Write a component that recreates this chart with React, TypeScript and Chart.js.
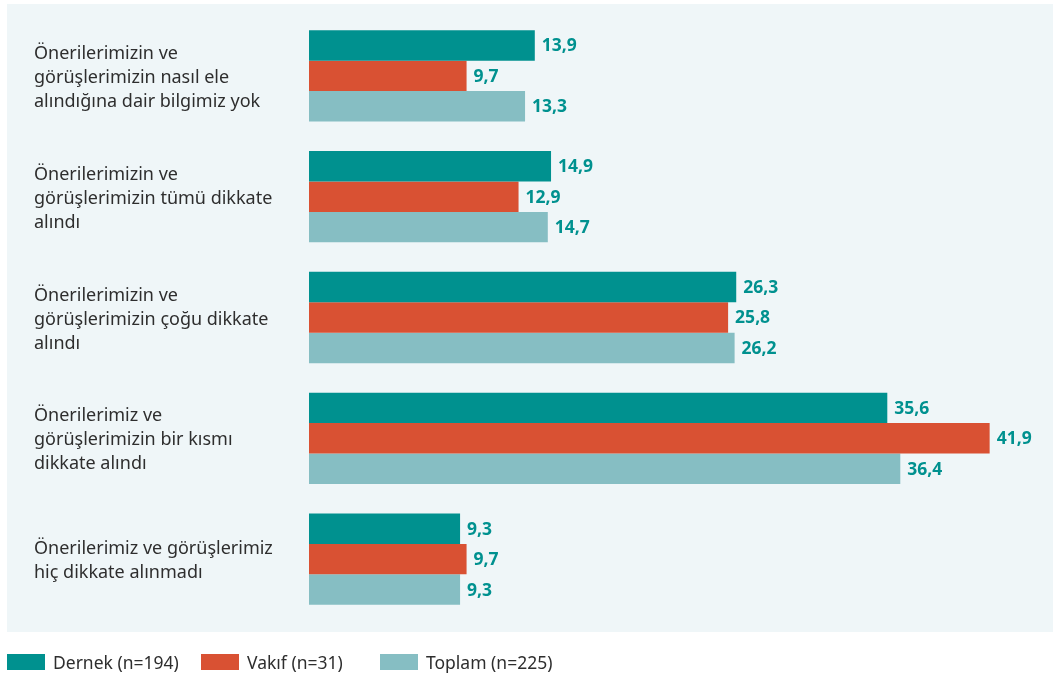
import React, { useEffect, useRef } from "react";
import { Chart, registerables } from "chart.js";

Chart.register(...registerables);

const categories: string[][] = [
  ["Önerilerimizin ve", "görüşlerimizin nasıl ele", "alındığına dair bilgimiz yok"],
  ["Önerilerimizin ve", "görüşlerimizin tümü dikkate", "alındı"],
  ["Önerilerimizin ve", "görüşlerimizin çoğu dikkate", "alındı"],
  ["Önerilerimiz ve", "görüşlerimizin bir kısmı", "dikkate alındı"],
  ["Önerilerimiz ve görüşlerimiz", "hiç dikkate alınmadı"],
];

const seriesNames = ["Dernek (n=194)", "Vakıf (n=31)", "Toplam (n=225)"];
const dernek = [13.9, 14.9, 26.3, 35.6, 9.3];
const vakif = [9.7, 12.9, 25.8, 41.9, 9.7];
const toplam = [13.3, 14.7, 26.2, 36.4, 9.3];
const colors = ["#00918f", "#d95133", "#86bec3"];

const FONT = "'Noto Sans', 'Open Sans', sans-serif";

const backgroundPlugin = {
  id: "panelBg",
  beforeDraw(chart: any) {
    const ctx = chart.ctx;
    ctx.save();
    ctx.fillStyle = "#eff6f8";
    ctx.fillRect(7, 4, chart.width - 7, 628);
    ctx.restore();
  },
};

const valueLabelPlugin = {
  id: "valueLabels",
  afterDatasetsDraw(chart: any) {
    const ctx = chart.ctx;
    ctx.save();
    ctx.font = `bold 17.5px ${FONT}`;
    ctx.fillStyle = "#00918f";
    ctx.textAlign = "left";
    ctx.textBaseline = "middle";
    chart.data.datasets.forEach((ds: any, i: number) => {
      const meta = chart.getDatasetMeta(i);
      meta.data.forEach((bar: any, j: number) => {
        const v = ds.data[j] as number;
        ctx.fillText(v.toFixed(1).replace(".", ","), bar.x + 7, bar.y + 1);
      });
    });
    ctx.restore();
  },
};

const legendPlugin = {
  id: "customLegend",
  afterDraw(chart: any) {
    const ctx = chart.ctx;
    const starts = [7, 201, 380];
    ctx.save();
    ctx.font = `17.5px ${FONT}`;
    ctx.textBaseline = "middle";
    ctx.textAlign = "left";
    chart.data.datasets.forEach((ds: any, i: number) => {
      const x = starts[i];
      ctx.fillStyle = ds.backgroundColor;
      ctx.fillRect(x, 654, 38, 16);
      ctx.fillStyle = "#2e2e2e";
      ctx.fillText(ds.label, x + 46, 664);
    });
    ctx.restore();
  },
};

export default function App() {
  const ref = useRef<HTMLCanvasElement | null>(null);
  useEffect(() => {
    if (!ref.current) return;
    const seriesData = [dernek, vakif, toplam];
    const chart = new Chart(ref.current, {
      type: "bar",
      data: {
        labels: categories,
        datasets: seriesNames.map((name, i) => ({
          label: name,
          data: seriesData[i],
          backgroundColor: colors[i],
          borderWidth: 0,
          barPercentage: 1,
          categoryPercentage: 0.756,
        })),
      },
      options: {
        indexAxis: "y",
        animation: false,
        responsive: false,
        devicePixelRatio: 1,
        layout: { padding: { left: 34, right: 13, top: 15.5, bottom: 55.5 } },
        plugins: {
          legend: { display: false },
          tooltip: { enabled: false },
        },
        scales: {
          x: { display: false, min: 0, max: 45 },
          y: {
            grid: { display: false },
            border: { display: false },
            ticks: {
              crossAlign: "far",
              padding: 0,
              labelOffset: 2,
              color: "#2e2e2e",
              font: { family: FONT, size: 18, lineHeight: "24px" },
            },
            afterFit: (scale: any) => {
              scale.width = 275;
              scale.paddingTop = 0;
              scale.paddingBottom = 0;
            },
          },
        },
      },
      plugins: [backgroundPlugin, valueLabelPlugin, legendPlugin],
    } as any);
    return () => chart.destroy();
  }, []);
  return (
    <canvas
      ref={ref}
      width={1053}
      height={675}
      style={{ position: "fixed", left: 0, top: 0, width: 1053, height: 675 }}
    />
  );
}
